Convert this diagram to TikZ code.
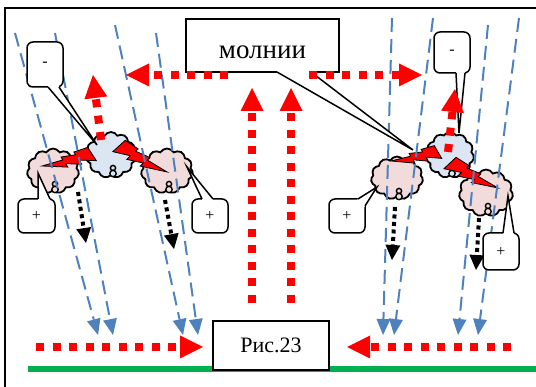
\documentclass[tikz,border=0pt]{standalone}
\usepackage{fontspec}
\setmainfont{Liberation Serif}
\newfontfamily\labelfont{Liberation Serif}
\usetikzlibrary{arrows.meta,shapes.symbols}

\definecolor{rainblue}{HTML}{4F81BD}
\definecolor{groundgreen}{HTML}{00B050}
\definecolor{pinkcloud}{HTML}{F2DCDB}
\definecolor{bluecloud}{HTML}{DCE6F2}

\tikzset{
  redflow/.style={draw=red, line width=8pt, dash pattern=on 8pt off 8.5pt,
    -{Triangle[length=23pt,width=23pt,line width=0pt,fill=red]}},
  fallflow/.style={draw=black, line width=4pt, dash pattern=on 4pt off 3.5pt,
    -{Triangle[length=15pt,width=15pt,line width=0pt,fill=black]}},
  rain/.style={draw=rainblue, line width=2pt, dash pattern=on 14pt off 7pt,
    -{Triangle[length=16pt,width=14pt,line width=0pt,fill=rainblue]}},
  puff/.style={cloud, cloud puffs=11, cloud puff arc=120, aspect=1.15,
    draw=black, line width=1.8pt, inner sep=0pt},
  bubble/.style={draw=black, line width=1.4pt},
  boltst/.style={fill=red, draw=black, line width=0.8pt, line join=miter},
  chargebox/.style={draw=black, fill=white, line width=1.5pt, rounded corners=6pt,
    inner sep=0pt, font=\labelfont\fontsize{16}{18}\selectfont},
  labelbox/.style={draw=black, fill=white, line width=1.8pt, inner sep=0pt},
  tailline/.style={draw=black, line width=1.5pt, line join=miter},
}

% lightning bolt: wide end at #1, rotated by #2, length #3, signed width #4
\newcommand\boltshape[4]{%
  \begin{scope}[shift={#1}, rotate=#2, xscale=#3, yscale=#4]
    \filldraw[boltst] (0.051,-0.171) -- (-0.051,0.171) -- (0.269,0.068)
      -- (0.241,0.174) -- (0.543,0.074) -- (0.516,0.163) -- (1,0)
      -- (0.579,-0.024) -- (0.598,-0.098) -- (0.312,-0.072)
      -- (0.336,-0.141) -- cycle;
  \end{scope}}

% wedge tail of a callout: base #1 -- tip #2 -- base #3
\newcommand\calltail[3]{%
  \fill[white] #1 -- #2 -- #3 -- cycle;
  \draw[white, line width=3pt] #1 -- #3;
  \draw[tailline] #1 -- #2 -- #3;}

% cloud with the two little bubbles at its lower edge
\newcommand\stormcloud[5]{% name, centre x, centre y, colour, size
  \node[puff, fill=#4, #5] (#1) at (#2,#3) {};
  \filldraw[bubble, fill=#4] (#2+2,#3-13) circle (2.6);
  \filldraw[bubble, fill=#4] (#2+2,#3-18.5) circle (3.2);}

\begin{document}
\begin{tikzpicture}[x=1pt,y=1pt]
  \useasboundingbox (0,0) rectangle (536,-387);
  \clip (0,0) rectangle (536,-387);

  % page frame and ground
  \draw[line width=2.5pt] (5,-8) rectangle (560,-410);
  \coordinate (g1) at (28,-369);
  \coordinate (g2) at (545,-369);
  \draw[groundgreen, line width=6pt] (g1) -- (g2);

  % clouds
  \stormcloud{c1}{53}{-171}{pinkcloud}{minimum width=52pt, minimum height=45pt}
  \stormcloud{c3}{167}{-171}{pinkcloud}{minimum width=52pt, minimum height=45pt}
  \stormcloud{c2}{111}{-155}{bluecloud}{minimum width=50pt, minimum height=46pt}
  \stormcloud{c4}{397}{-178}{pinkcloud}{minimum width=52pt, minimum height=43pt}
  \stormcloud{c6}{486}{-193}{pinkcloud}{minimum width=54pt, minimum height=47pt}
  \stormcloud{c5}{450}{-155}{bluecloud}{minimum width=48pt, minimum height=46pt}

  % lightning between the clouds
  \boltshape{(92,-154)}{193.5}{51.4}{43.7}
  \boltshape{(119,-146)}{-28.4}{54.6}{-46.4}
  \boltshape{(438,-152)}{190.8}{47.9}{40.7}
  \boltshape{(450,-163)}{-27.5}{54.1}{-46}

  % rain streaks
  \foreach \i/\xa/\ya/\xb/\yb in {1/15/33/98/335, 2/55/33/113/335,
      3/115/25/183/335, 4/156/33/198/335, 5/392/18/383/335,
      6/433/18/394/335, 7/488/25/458/335, 8/519/18/478/335} {
    \coordinate (rs\i) at (\xa,-\ya);
    \coordinate (re\i) at (\xb,-\yb);
    \draw[rain] (rs\i) -- (re\i);
  }

  % falling charge under the positive clouds
  \foreach \i/\xa/\ya/\xb/\yb in {1/78/192/86/243, 2/165/200/174/249,
      3/395/207/392/260, 4/479/218/476/270} {
    \coordinate (fs\i) at (\xa,-\ya);
    \coordinate (fe\i) at (\xb,-\yb);
    \draw[fallflow] (fs\i) -- (fe\i);
  }

  % labelled boxes
  \node[labelbox, minimum width=153pt, minimum height=53pt] (mol) at (262.5,-45.5)
    {\labelfont\fontsize{27}{30}\selectfont\raisebox{-7pt}[\height][\depth]{молнии}};
  \node[labelbox, line width=2pt, minimum width=116pt, minimum height=49pt] (fig) at (271,-345.5)
    {\labelfont\fontsize{22}{24}\selectfont Рис.23};

  \coordinate (molt) at (413,-150);
  \calltail{(277,-72)}{(molt)}{(311,-72)}

  % charge callouts
  \node[chargebox, minimum width=36pt, minimum height=45pt] (m1) at (45,-64.5) {-};
  \node[chargebox, minimum width=36pt, minimum height=41pt] (m2) at (452,-52.5) {-};
  \node[chargebox, minimum width=37pt, minimum height=34pt] (p1) at (36.5,-216) {+};
  \node[chargebox, minimum width=36pt, minimum height=34pt] (p2) at (210,-216) {+};
  \node[chargebox, minimum width=36pt, minimum height=34pt] (p3) at (347,-216) {+};
  \node[chargebox, minimum width=36pt, minimum height=37pt] (p4) at (501,-251.5) {+};

  \coordinate (m1t) at (97,-145);
  \coordinate (m2t) at (459,-133);
  \coordinate (p1t) at (38,-173);
  \coordinate (p2t) at (187,-167);
  \coordinate (p3t) at (377,-187);
  \coordinate (p4t) at (508,-196);
  \calltail{(48,-87)}{(m1t)}{(59,-87)}
  \calltail{(456,-73)}{(m2t)}{(465,-73)}
  \calltail{(38,-199)}{(p1t)}{(50,-199)}
  \calltail{(202,-199)}{(p2t)}{(213,-199)}
  \calltail{(358,-199)}{(p3t)}{(365,-206)}
  \calltail{(503,-233)}{(p4t)}{(514,-233)}

  % discharge flows
  \foreach \i/\xa/\ya/\xb/\yb in {1/36/347/203/347, 2/511/347/347/347,
      3/252/303/252/88, 4/291/303/291/88, 5/228/75/126/75,
      6/309/75/422/75, 7/101/140/93/75, 8/448/152/455/89} {
    \coordinate (ds\i) at (\xa,-\ya);
    \coordinate (de\i) at (\xb,-\yb);
    \draw[redflow] (ds\i) -- (de\i);
  }
\end{tikzpicture}
\end{document}
